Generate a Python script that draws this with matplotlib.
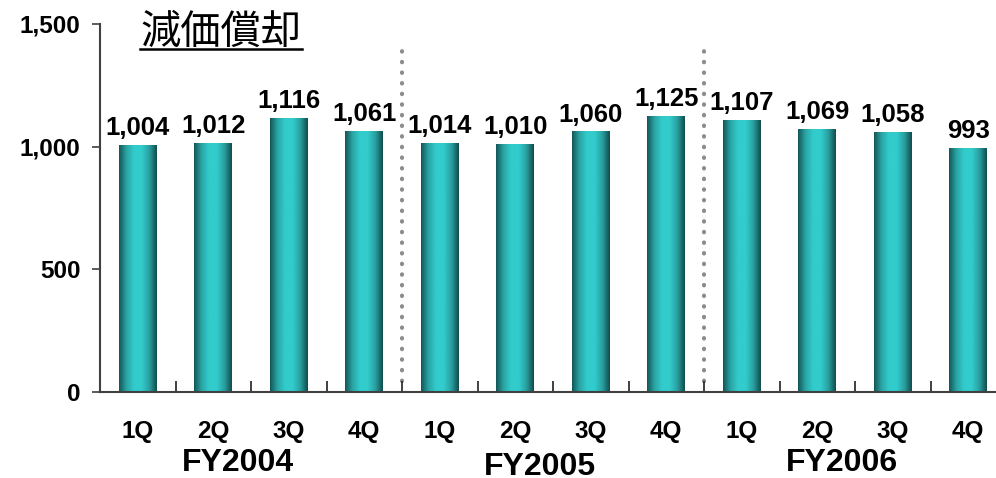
import numpy as np
import matplotlib
matplotlib.use("Agg")
from matplotlib import pyplot as plt
from matplotlib.colors import LinearSegmentedColormap

plt.rcParams['font.family'] = ['Liberation Sans', 'Noto Sans CJK JP', 'DejaVu Sans']

quarters = ["1Q", "2Q", "3Q", "4Q"] * 3
years = ["FY2004", "FY2005", "FY2006"]
values = [1004, 1012, 1116, 1061, 1014, 1010, 1060, 1125, 1107, 1069, 1058, 993]
title = "減価償却"

fig = plt.figure(figsize=(9.96, 4.78), dpi=100)
ax = fig.add_axes([100 / 996, 86 / 478, 906 / 996, 368 / 478])

x = np.arange(len(values))
bars = ax.bar(x, values, width=0.5, color="none", edgecolor="none", zorder=2)

# cylinder-like shading across each bar
shade = LinearSegmentedColormap.from_list(
    "teal", ["#145656", "#2aa5a5", "#33cccc", "#33cccc", "#29a0a0", "#114c4c"])
grad = np.linspace(0, 1, 256).reshape(1, -1)
for b, v in zip(bars, values):
    x0, w = b.get_x(), b.get_width()
    ax.imshow(grad, cmap=shade, aspect="auto", extent=[x0, x0 + w, 0, v],
              zorder=2, interpolation="bilinear")
    ax.text(x0 + w / 2, v + 42, "{:,}".format(v),
            ha="center", va="baseline", fontsize=18.5, fontweight="bold", zorder=3)

ax.set_xlim(-0.5, len(values) - 0.5)
ax.set_ylim(0, 1500)
ax.set_yticks([0, 500, 1000, 1500])
ax.set_yticklabels(["0", "500", "1,000", "1,500"], fontsize=17.5, fontweight="bold")
ax.tick_params(axis="y", direction="out", length=6, width=1.2, color="#404040", pad=8)

ax.set_xticks(np.arange(-0.5, len(values), 1.0))
ax.set_xticklabels([])
ax.tick_params(axis="x", direction="in", length=8, width=1.2, color="#202020")
for i, q in enumerate(quarters):
    ax.text(i, -163, q, ha="center", va="center", fontsize=17.5, fontweight="bold")
for j, fy in enumerate(years):
    ax.text(4 * j + 1.33, -290 - (14 if j == 1 else 0), fy, ha="center", va="center",
            fontsize=23, fontweight="bold")

for s in ["top", "right"]:
    ax.spines[s].set_visible(False)
ax.spines["left"].set_color("#404040")
ax.spines["left"].set_linewidth(1.5)
ax.spines["bottom"].set_color("#404040")
ax.spines["bottom"].set_linewidth(1.5)

# dotted separators between fiscal years
for sep in [3.5, 7.5]:
    ax.plot([sep, sep], [45, 1430], linestyle=(0, (0.1, 2.45)), linewidth=3,
            dash_capstyle="round", color="#8c8c8c", zorder=1, clip_on=False)

ax.text(0.03, 1465, title, ha="left", va="center", fontsize=29,
        family=['Noto Sans CJK JP', 'DejaVu Sans'])
ax.plot([0.03, 2.18], [1398, 1398], color="black", linewidth=1.8, clip_on=False)

fig.savefig("out.png", dpi=100)
